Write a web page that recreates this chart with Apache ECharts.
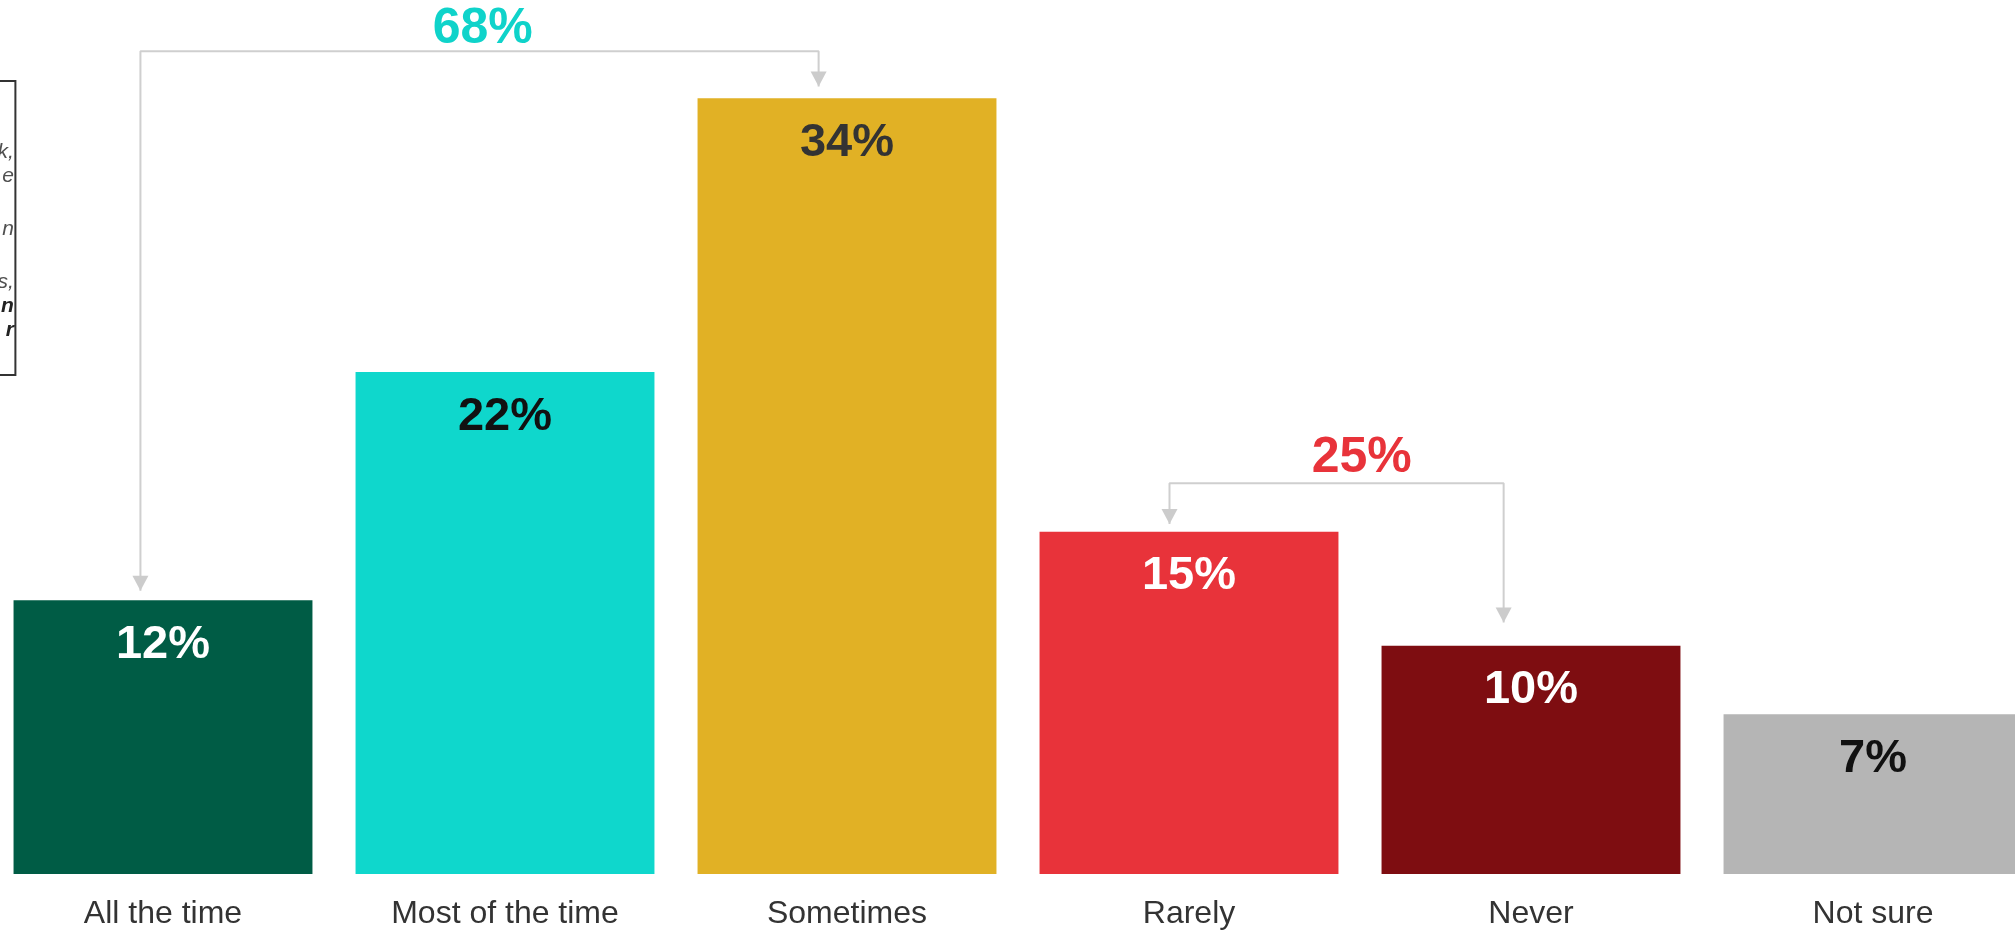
<!DOCTYPE html>
<html>
<head>
<meta charset="utf-8">
<script src="https://cdn.jsdelivr.net/npm/echarts@6/dist/echarts.min.js"></script>
<style>
html,body{margin:0;padding:0;background:#fff;overflow:hidden;width:2015px;height:930px;position:relative;}
#chart{position:absolute;left:-8.4px;top:0;width:2052px;height:930px;}
</style>
</head>
<body>
<div id="chart"></div>
<script>
// ---- data ----
const categories = ['All the time', 'Most of the time', 'Sometimes', 'Rarely', 'Never', 'Not sure'];
const values = [12, 22, 34, 15, 10, 7];
const barColors = ['#005c45', '#0fd7cc', '#e1b125', '#e8333a', '#7e0d11', '#b5b5b5'];
const labelColors = ['#ffffff', '#111111', '#333333', '#ffffff', '#ffffff', '#111111'];

// bracket annotations (x in category-index units, y in % units)
const bracket68 = { label: '68%', color: '#0fd3ca', x: [-0.066, 1.917], lineY: 36.06, tips: [12.41, 34.52], labelPos: [0.935, 37.01] };
const bracket25 = { label: '25%', color: '#e8333a', x: [2.943, 3.92], lineY: 17.13, tips: [15.34, 11.02], labelPos: [3.505, 18.24] };
const brackets = [bracket68, bracket25];

// partially visible side note (cut off at the left edge of the picture)
const noteLines = [
  { t: 'k,', y: 152, bold: false },
  { t: 'e', y: 176, bold: false },
  { t: 'n', y: 229, bold: false },
  { t: 's,', y: 282, bold: false },
  { t: 'n', y: 306, bold: true },
  { t: 'r', y: 330, bold: true }
];

const FONT = 'Liberation Sans, Arial, sans-serif';
const SHIFT = 8.4; // chart canvas starts 8.4px left of the picture
const chart = echarts.init(document.getElementById('chart'));

const series = [{
  type: 'bar',
  xAxisIndex: 0,
  yAxisIndex: 0,
  barCategoryGap: '12.6%',
  data: values.map((v, i) => ({
    value: v,
    itemStyle: { color: barColors[i] },
    label: { color: labelColors[i] }
  })),
  label: {
    show: true,
    position: 'insideTop',
    distance: 21,
    formatter: '{c}%',
    fontFamily: FONT,
    fontWeight: 'bold',
    fontSize: 47
  },
  silent: true
}];

brackets.forEach(b => {
  series.push({
    type: 'line',
    xAxisIndex: 1,
    yAxisIndex: 0,
    data: [[b.x[0], b.tips[0]], [b.x[0], b.lineY], [b.x[1], b.lineY], [b.x[1], b.tips[1]]],
    showSymbol: false,
    lineStyle: { color: '#cfcfcf', width: 2 },
    silent: true,
    z: 3
  });
  series.push({
    type: 'scatter',
    xAxisIndex: 1,
    yAxisIndex: 0,
    data: [[b.x[0], b.tips[0]], [b.x[1], b.tips[1]]],
    symbol: 'path://M0,0 L16,0 L8,15 Z',
    symbolSize: [16, 15],
    symbolOffset: [0, -7.5],
    itemStyle: { color: '#cccccc', opacity: 1 },
    silent: true,
    clip: false,
    z: 4
  });
  series.push({
    type: 'scatter',
    xAxisIndex: 1,
    yAxisIndex: 0,
    data: [b.labelPos],
    symbolSize: 1,
    itemStyle: { color: 'rgba(0,0,0,0)', opacity: 1 },
    label: {
      show: true,
      position: 'inside',
      formatter: b.label,
      color: b.color,
      opacity: 1,
      textBorderWidth: 0,
      fontFamily: FONT,
      fontWeight: 'bold',
      fontSize: 50
    },
    silent: true,
    clip: false,
    z: 5
  });
});

const graphics = [{
  type: 'rect',
  shape: { x: -300 + SHIFT, y: 81, width: 315, height: 294 },
  style: { fill: 'none', stroke: '#333333', lineWidth: 2 },
  silent: true
}];
noteLines.forEach(l => {
  graphics.push({
    type: 'text',
    x: 13.5 + SHIFT,
    y: l.y,
    style: {
      text: l.t,
      align: 'right',
      verticalAlign: 'middle',
      fill: l.bold ? '#222222' : '#505050',
      font: (l.bold ? 'italic bold ' : 'italic ') + '21px ' + FONT
    },
    silent: true
  });
});

chart.setOption({
  animation: false,
  backgroundColor: '#ffffff',
  grid: { left: 0, right: 0, top: 7, bottom: 52.7, containLabel: false },
  xAxis: [{
    type: 'category',
    data: categories,
    axisLine: { show: false },
    axisTick: { show: false },
    axisLabel: { color: '#333333', fontFamily: FONT, fontSize: 32, margin: 24 }
  }, {
    type: 'value',
    min: -0.5,
    max: 5.5,
    show: false
  }],
  yAxis: { type: 'value', min: 0, max: 38, show: false },
  series: series,
  graphic: graphics
});
</script>
</body>
</html>
